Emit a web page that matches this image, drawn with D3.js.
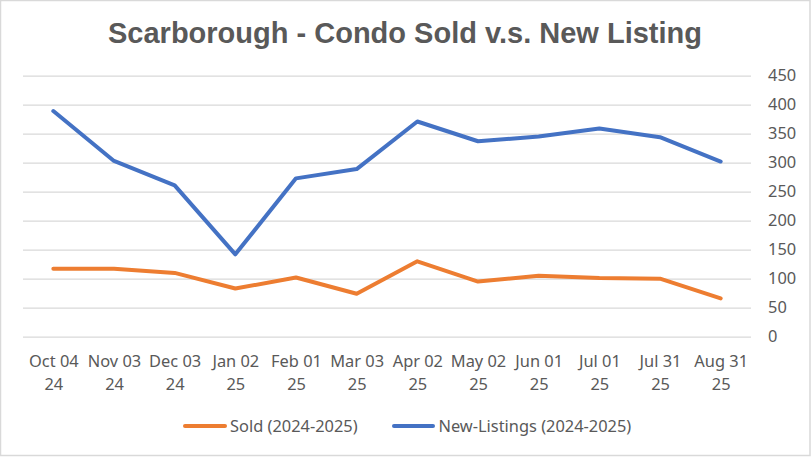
<!DOCTYPE html>
<html>
<head>
<meta charset="utf-8">
<script src="https://cdn.jsdelivr.net/npm/d3@7"></script>
<style>
  html, body { margin: 0; padding: 0; background: #fff; }
  svg { display: block; }
  text { font-family: "Noto Sans", "Open Sans", sans-serif; fill: #595959; }
</style>
</head>
<body>
<div id="chart"></div>
<script>
// chart data
var categories = ["Oct 04 24", "Nov 03 24", "Dec 03 24", "Jan 02 25", "Feb 01 25", "Mar 03 25",
                  "Apr 02 25", "May 02 25", "Jun 01 25", "Jul 01 25", "Jul 31 25", "Aug 31 25"];
var soldValues = [117, 117, 110, 83, 102, 74, 130, 95, 105, 101, 100, 66];
var listingValues = [389, 303, 261, 142, 273, 289, 371, 337, 345, 359, 344, 302];
var yTicks = [0, 50, 100, 150, 200, 250, 300, 350, 400, 450];
var seriesNames = ["Sold (2024-2025)", "New-Listings (2024-2025)"];
var seriesColors = ["#ED7D31", "#4472C4"];

var svgWidth = 811;
var svgHeight = 457;

var svg = d3.select('#chart')
    .append('svg')
    .attr('width', svgWidth)
    .attr('height', svgHeight);

// outer chart border
svg.append('rect')
    .attr('x', 0.5)
    .attr('y', 0.5)
    .attr('width', svgWidth - 1.5)
    .attr('height', svgHeight - 2)
    .attr('fill', 'none')
    .attr('stroke', '#D9D9D9')
    .attr('stroke-width', 1.5);

var plotLeft = 23, plotRight = 751, plotTop = 75.7, plotBottom = 336.7;

var xScale = d3.scalePoint()
    .domain(categories)
    .range([plotLeft, plotRight])
    .padding(0.5);

var yScale = d3.scaleLinear()
    .domain([0, 450])
    .range([plotBottom, plotTop]);

// title
svg.append('text')
    .attr('x', 405)
    .attr('y', 42.5)
    .attr('text-anchor', 'middle')
    .style('font-family', '"Liberation Sans", Arial, sans-serif')
    .style('font-weight', 'bold')
    .style('font-size', '29px')
    .text('Scarborough - Condo Sold v.s. New Listing');

// right axis with gridlines
var rightAxis = d3.axisRight(yScale)
    .tickValues(yTicks)
    .tickSizeInner(-(plotRight - plotLeft))
    .tickSizeOuter(0)
    .tickPadding(17);

var yAxisGroup = svg.append('g')
    .attr('transform', `translate(${plotRight}, 0)`)
    .call(rightAxis);

yAxisGroup.select('.domain').remove();
yAxisGroup.selectAll('line')
    .attr('stroke', '#D9D9D9')
    .attr('stroke-width', 1.3);
yAxisGroup.selectAll('text')
    .attr('fill', '#595959')
    .style('font-size', '16.4px')
    .style('font-family', '"Noto Sans", sans-serif');

// bottom axis labels, two lines each
var bottomAxis = d3.axisBottom(xScale).tickSize(0).tickPadding(0);
var xAxisGroup = svg.append('g')
    .attr('transform', `translate(0, ${plotBottom})`)
    .call(bottomAxis);

xAxisGroup.select('.domain').remove();
xAxisGroup.selectAll('text')
    .attr('fill', '#595959')
    .attr('dy', null)
    .attr('y', null)
    .style('font-size', '16.4px')
    .style('font-family', '"Noto Sans", sans-serif')
    .each(function(d) {
        var parts = d.split(' ');
        var t = d3.select(this).text(null);
        t.append('tspan').attr('x', 0).attr('y', 30).text(parts[0] + ' ' + parts[1]);
        t.append('tspan').attr('x', 0).attr('y', 53.3).text(parts[2]);
    });

// lines
var lineGen = d3.line()
    .x((d, i) => xScale(categories[i]))
    .y(d => yScale(d));

[soldValues, listingValues].forEach(function(values, k) {
    svg.append('path')
        .datum(values)
        .attr('d', lineGen)
        .attr('fill', 'none')
        .attr('stroke', seriesColors[k])
        .attr('stroke-width', 4)
        .attr('stroke-linejoin', 'round')
        .attr('stroke-linecap', 'round');
});

// legend
var legendItems = [
    { x1: 185, x2: 225, tx: 230 },
    { x1: 394, x2: 433, tx: 438.5 }
];

legendItems.forEach(function(item, k) {
    svg.append('line')
        .attr('x1', item.x1)
        .attr('x2', item.x2)
        .attr('y1', 426)
        .attr('y2', 426)
        .attr('stroke', seriesColors[k])
        .attr('stroke-width', 4)
        .attr('stroke-linecap', 'round');
    svg.append('text')
        .attr('x', item.tx)
        .attr('y', 432)
        .style('font-size', '16.4px')
        .text(seriesNames[k]);
});
</script>
</body>
</html>
